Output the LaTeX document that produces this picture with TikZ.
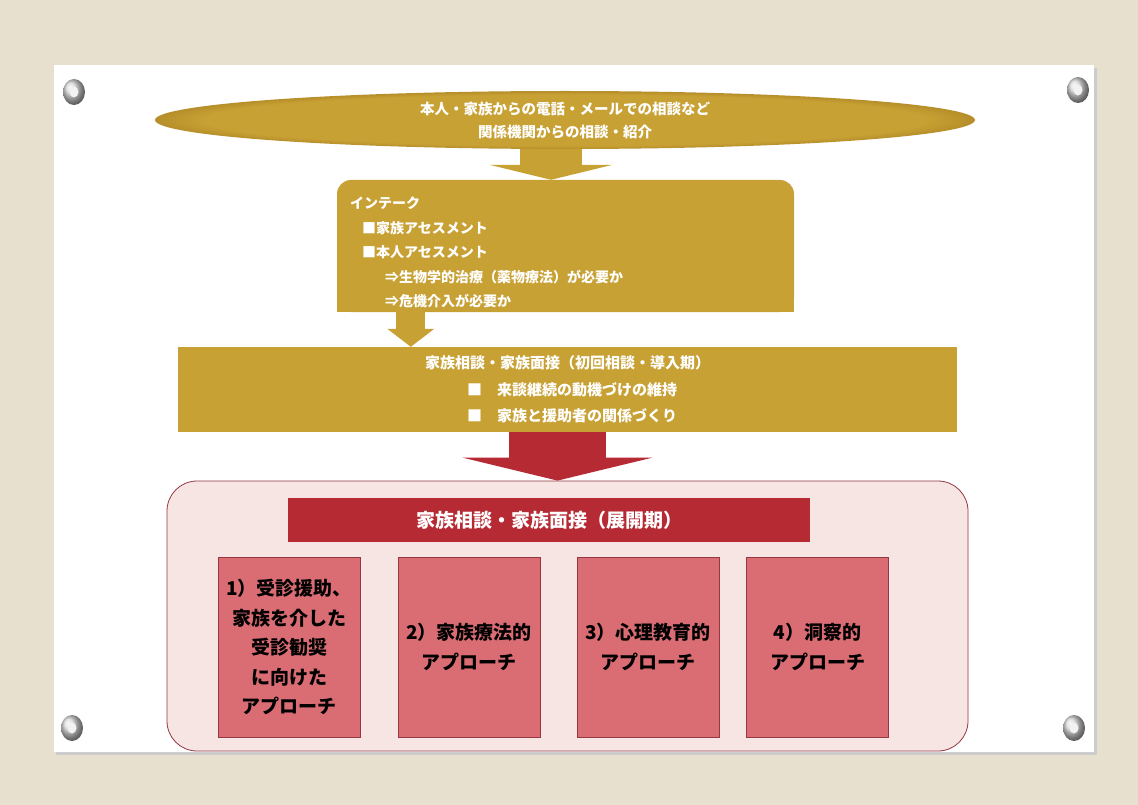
\documentclass[tikz,border=0pt]{standalone}
\usepackage{fontspec}
\setmainfont{Noto Sans CJK JP}
\usepackage{tikz}
\usetikzlibrary{arrows.meta, shapes.geometric}
\definecolor{canvas}{RGB}{231,224,207}
\definecolor{gold}{RGB}{200,161,52}
\definecolor{golddark}{RGB}{182,142,42}
\definecolor{wine}{RGB}{182,42,52}
\definecolor{rose}{RGB}{218,108,116}
\definecolor{roseline}{RGB}{150,55,65}
\definecolor{blush}{RGB}{246,229,226}
\pgfdeclareradialshading{goldrim}{\pgfpoint{0bp}{0bp}}{color(0bp)=(gold); color(22bp)=(gold); color(25bp)=(golddark); color(50bp)=(golddark)}

\begin{document}
\begin{tikzpicture}[
  x=1pt, y=-1pt,
  source/.style={ellipse, shading=goldrim, minimum width=820pt, minimum height=58pt,
                 inner sep=0pt, text=white, align=center,
                 font=\bfseries\fontsize{14.5}{23}\selectfont},
  goldbox/.style={fill=gold, inner sep=0pt, text=white},
  stage/.style={fill=blush, draw=roseline, line width=0.8pt, rounded corners=30pt, inner sep=0pt},
  phasebar/.style={fill=wine, inner sep=0pt, text=white, minimum width=522pt, minimum height=44pt,
                   font=\bfseries\fontsize{19}{24}\selectfont},
  approach/.style={fill=rose, draw=roseline, line width=0.6pt, inner sep=0pt,
                   minimum width=142pt, minimum height=180pt, align=center,
                   font=\bfseries\fontsize{19}{29.5}\selectfont}
]
  \useasboundingbox (0,0) rectangle (1138,805);
  \fill[canvas] (0,0) rectangle (1138,805);

  % the card and its grommets
  \fill[gray!40] (56,68) rectangle (1097,755);
  \fill[white] (54,65) rectangle (1094,752);
  \foreach \gx/\gy in {74/92, 1078/90, 72/728, 1074/728} {
    \shade[ball color=gray!30] (\gx,\gy) ellipse [x radius=11, y radius=13];
    \fill[gray!10] (\gx,\gy) ellipse [x radius=4.5, y radius=5.5];
  }

  % first contact
  \node[source, shade] (source) at (565,120)
    {本人・家族からの電話・メールでの相談など\\関係機関からの相談・紹介};

  % intake
  \node[goldbox, rounded corners=14pt, minimum width=457pt, minimum height=132pt] (intake) at (565.5,246) {};
  \fill[gold] (intake.south west) rectangle ([yshift=20pt]intake.south east);
  \node[anchor=north west, inner sep=0pt, text=white, align=left,
        font=\bfseries\fontsize{14}{24.5}\selectfont] (intakelist) at (350,197)
    {インテーク\\
     \hspace*{12pt}■家族アセスメント\\
     \hspace*{12pt}■本人アセスメント\\
     \hspace*{35pt}⇒生物学的治療（薬物療法）が必要か\\
     \hspace*{35pt}⇒危機介入が必要か};

  % first interview
  \node[goldbox, minimum width=779pt, minimum height=85pt, align=left,
        font=\bfseries\fontsize{15}{26.5}\selectfont] (intro) at (567.5,389.5)
    {家族相談・家族面接（初回相談・導入期）\\
     \hspace*{42pt}■　来談継続の動機づけの維持\\
     \hspace*{42pt}■　家族と援助者の関係づくり};

  % development phase
  \node[stage, minimum width=801pt, minimum height=270pt] (stage) at (567.5,616) {};
  \node[phasebar] (phase) at (549,520) {家族相談・家族面接（展開期）};
  \node[approach] (app1) at (289,647) {1）受診援助、\\家族を介した\\受診勧奨\\に向けた\\アプローチ};
  \node[approach] (app2) at (469,647) {2）家族療法的\\アプローチ};
  \node[approach] (app3) at (648,647) {3）心理教育的\\アプローチ};
  \node[approach] (app4) at (817.5,647) {4）洞察的\\アプローチ};

  % block arrows
  \draw[gold, line width=62pt, -{Triangle[width=123pt, length=15pt, line width=0pt]}]
    ([xshift=-14pt]source.south) -- ([xshift=-14pt]source.south |- intake.north);
  \draw[gold, line width=29pt, -{Triangle[width=47pt, length=18pt, line width=0pt]}]
    ([xshift=74pt]intake.south west) -- ([xshift=74pt]intake.south west |- intro.north);
  \draw[wine, line width=97pt, -{Triangle[width=190pt, length=23pt, line width=0pt]}]
    ([xshift=-10pt]intro.south) -- ([xshift=-10pt]intro.south |- stage.north);
\end{tikzpicture}
\end{document}
